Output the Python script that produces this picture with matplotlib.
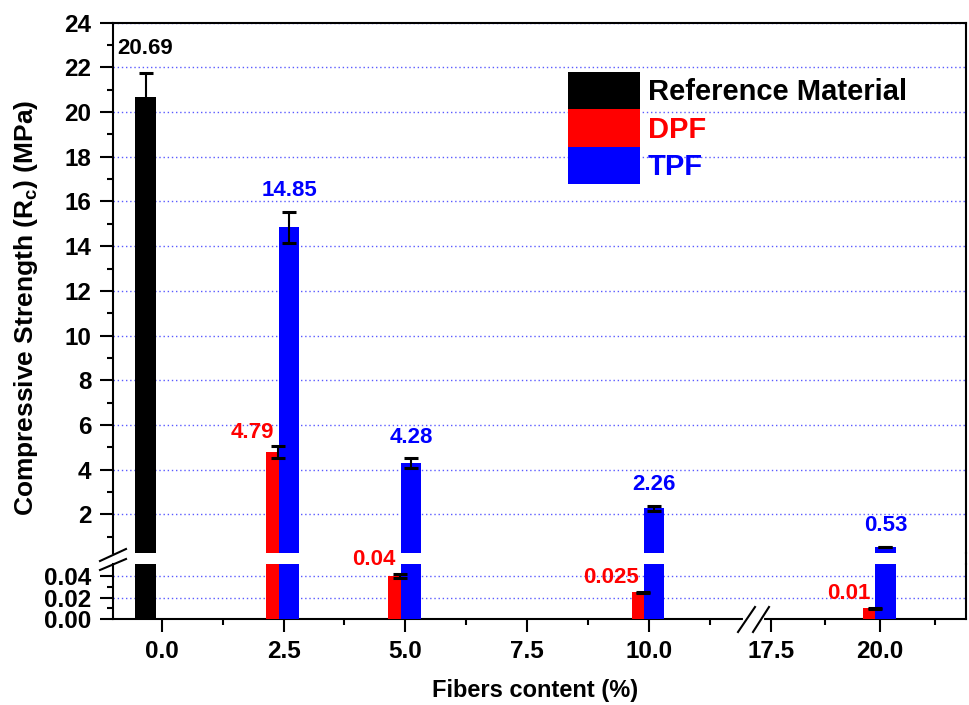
import numpy as np
import matplotlib.pyplot as plt
from matplotlib.lines import Line2D

plt.rcParams['font.family'] = ['Liberation Sans', 'DejaVu Sans']
plt.rcParams['font.weight'] = 'bold'
plt.rcParams['mathtext.fontset'] = 'custom'
plt.rcParams['mathtext.rm'] = 'Liberation Sans:bold'
plt.rcParams['mathtext.it'] = 'Liberation Sans:bold'
plt.rcParams['mathtext.bf'] = 'Liberation Sans:bold'

# data
fiber_labels = ["0.0", "2.5", "5.0", "7.5", "10.0", "17.5", "20.0"]

ref_contents = ["0.0"]
ref_values = [20.69]
ref_err = [1.05]

dpf_contents = ["2.5", "5.0", "10.0", "20.0"]
dpf_values = [4.79, 0.04, 0.025, 0.01]
dpf_err = [0.26, 0.002, 0.0004, 0.0004]
dpf_text = ["4.79", "0.04", "0.025", "0.01"]

tpf_contents = ["2.5", "5.0", "10.0", "20.0"]
tpf_values = [14.85, 4.28, 2.26, 0.53]
tpf_err = [0.70, 0.22, 0.12, 0.015]
tpf_text = ["14.85", "4.28", "2.26", "0.53"]

# x layout: axis is broken between 10.0 and 17.5
tick_pos = [0, 1, 2, 3, 4, 5.0, 5.897]
minor_pos = [0.5, 1.5, 2.5, 3.5, 4.5, 5.449, 6.346]
pos = dict(zip(fiber_labels, tick_pos))

W, H = 970, 705
fig = plt.figure(figsize=(W / 100, H / 100), dpi=100)

def fx(px):
    return px / W

def fy(py):
    return 1 - py / H

left, right = 113, 966
ax_top = fig.add_axes([fx(left), fy(553.3), fx(right - left), (553.3 - 22.7) / H])
ax_bot = fig.add_axes([fx(left), fy(619), fx(right - left), (619 - 564.3) / H])

blue_grid = '#5a5aff'
series = [
    ("Reference Material", ref_contents, ref_values, ref_err, 'black', -0.133, 0.172),
    ("DPF", dpf_contents, dpf_values, dpf_err, 'red', -0.045, 0.196),
    ("TPF", tpf_contents, tpf_values, tpf_err, 'blue', 0.045, 0.165),
]

handles = []
for ax in (ax_top, ax_bot):
    for i, (name, cont, vals, errs, col, off, w) in enumerate(series):
        xs = np.array([pos[c] for c in cont]) + off
        b = ax.bar(xs, vals, width=w, color=col, linewidth=0, zorder=2 + i, label=name)
        if ax is ax_top:
            handles.append(b)
    for i, (name, cont, vals, errs, col, off, w) in enumerate(series):
        xs = np.array([pos[c] for c in cont]) + off
        ax.errorbar(xs, vals, yerr=errs, fmt='none', ecolor='black',
                    elinewidth=1.5, capsize=5, capthick=2.2, zorder=6)

ax_top.set_ylim(0.255, 24)
ax_bot.set_ylim(0, 0.051)
for ax in (ax_top, ax_bot):
    ax.set_xlim(-0.40, 6.603)
    ax.set_axisbelow(True)
    ax.yaxis.grid(True, which='major', color=blue_grid, linestyle=(0, (1, 2)), linewidth=1)
    ax.tick_params(axis='both', which='major', direction='out', length=9.4, width=1.5,
                   labelsize=17.5, pad=6)
    ax.tick_params(axis='both', which='minor', direction='out', length=4.5, width=1.5)
    ax.tick_params(right=False, top=False)
    for s in ax.spines.values():
        s.set_linewidth(1.5)

ax_top.set_yticks(np.arange(2, 25, 2))
ax_top.set_yticks(np.arange(1, 24, 2), minor=True)
ax_top.spines['bottom'].set_visible(False)
ax_top.tick_params(axis='x', which='both', bottom=False, labelbottom=False)

ax_bot.set_yticks([0, 0.02, 0.04])
ax_bot.set_yticklabels(["0.00", "0.02", "0.04"])
ax_bot.set_yticks([0.01, 0.03], minor=True)
ax_bot.spines['top'].set_visible(False)
ax_bot.set_xticks(tick_pos)
ax_bot.set_xticklabels(fiber_labels)
ax_bot.set_xticks(minor_pos, minor=True)

# value labels
def put_label(x, y, txt, col, dx, dy, ha):
    ax = ax_top if y > ax_bot.get_ylim()[1] else ax_bot
    ax.annotate(txt, (x, y), xytext=(dx * 0.72, dy * 0.72), textcoords='offset points',
                ha=ha, va='center', color=col, fontsize=16, fontweight='bold',
                annotation_clip=False, zorder=8)

for c, v, e in zip(ref_contents, ref_values, ref_err):
    put_label(pos[c] - 0.133, v + e, "%.2f" % v, 'black', 0, 25, 'center')
for c, v, e, t in zip(tpf_contents, tpf_values, tpf_err, tpf_text):
    put_label(pos[c] + 0.045, v + e, t, 'blue', 0, 21, 'center')
for c, v, e, t in zip(dpf_contents, dpf_values, dpf_err, dpf_text):
    put_label(pos[c] - 0.045 - 0.035, v + e, t, 'red', 0, 14, 'right')

# legend
leg = ax_top.legend(handles=handles, loc='upper left',
                    bbox_to_anchor=(fx(568), fy(72)), bbox_transform=fig.transFigure,
                    frameon=False, fontsize=21, handlelength=2.47, handleheight=1.6,
                    labelspacing=0.0, handletextpad=0.27, borderpad=0, borderaxespad=0)
for t, col in zip(leg.get_texts(), ['black', 'red', 'blue']):
    t.set_color(col)
    t.set_fontweight('bold')

# axis labels
fig.text(fx(535), fy(690), "Fibers content (%)", ha='center', va='center',
         fontsize=17, fontweight='bold')
fig.text(fx(26), fy(308), "Compressive Strength (R$_\\mathregular{c}$) (MPa)",
         ha='center', va='center', rotation=90, fontsize=19, fontweight='bold')

# break marks and joining right spine
lw = 1.5
fig.add_artist(Line2D([fx(966), fx(966)], [fy(553.3), fy(564.3)], color='black', lw=lw))
fig.add_artist(Line2D([fx(100), fx(126)], [fy(561), fy(549)], color='black', lw=lw))
fig.add_artist(Line2D([fx(100), fx(126)], [fy(570), fy(559)], color='black', lw=lw))
fig.add_artist(Line2D([fx(745), fx(762)], [fy(619), fy(619)], color='white', lw=3))
fig.add_artist(Line2D([fx(738), fx(755)], [fy(632), fy(607)], color='black', lw=lw))
fig.add_artist(Line2D([fx(753), fx(769)], [fy(632), fy(607)], color='black', lw=lw))

fig.savefig("out.png", dpi=100)
